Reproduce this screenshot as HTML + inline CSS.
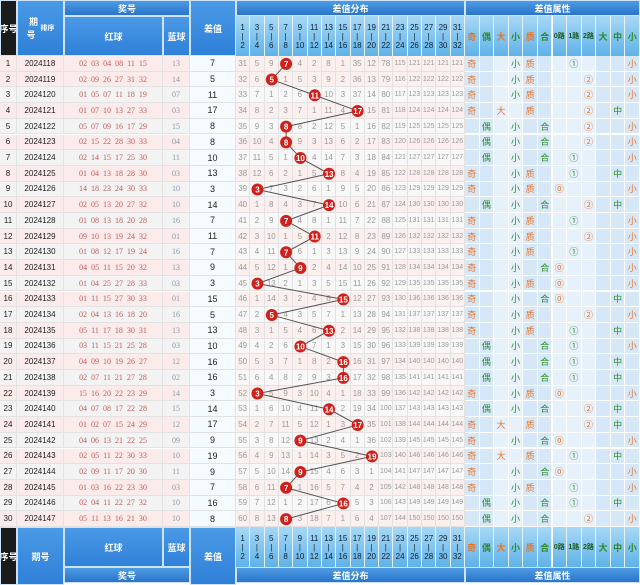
<!DOCTYPE html>
<html><head><meta charset="utf-8">
<style>
body{margin:0;width:640px;height:585px;overflow:hidden;background:#fff;font-family:"Liberation Sans","Noto Sans CJK SC",sans-serif;}
#root{position:relative;width:640px;height:585px;}
.c{position:absolute;box-sizing:border-box;display:flex;align-items:center;justify-content:center;text-align:center;white-space:nowrap;overflow:hidden;}
.hb{background:linear-gradient(#4a9ae6,#2f80d8);color:#fff;font-weight:bold;font-size:9px;border:1px solid #cfe3f6;}
.tb{background:linear-gradient(#4d9be4,#2a74c8);color:#fff;font-weight:bold;font-size:9px;border:1px solid #cfe3f6;}
.dh{background:linear-gradient(#a8d8f5,#5fb2e8);color:#123;font-size:8px;line-height:9px;border-right:1px solid #e4f2fc;flex-direction:column;}
.ah{background:linear-gradient(#a8d8f5,#5fb2e8);font-size:9px;font-weight:bold;border-right:1px solid #e4f2fc;}
.blk{background:#1b1b1b;color:#fff;font-weight:bold;font-size:9px;border:1px solid #cfe3f6;}
.cell{font-size:8px;border-right:1px solid #e2e2e2;border-bottom:1px solid #e2e2e2;}
</style></head><body>
<div id="root">
<svg id="lines" width="640" height="585" style="position:absolute;left:0;top:0;z-index:2;pointer-events:none"></svg>
</div>
<script>
const issues=["2024118","2024119","2024120","2024121","2024122","2024123","2024124","2024125","2024126","2024127","2024128","2024129","2024130","2024131","2024132","2024133","2024134","2024135","2024136","2024137","2024138","2024139","2024140","2024141","2024142","2024143","2024144","2024145","2024146","2024147"];
const reds=["02 03 04 08 11 15","02 09 26 27 31 32","01 05 07 11 18 19","01 07 10 13 27 33","05 07 09 16 17 29","02 15 22 28 30 33","02 14 15 17 25 30","01 04 13 18 28 30","14 18 23 24 30 33","02 05 13 20 27 32","01 08 13 18 20 28","09 10 13 19 24 32","01 08 12 17 19 24","04 05 11 15 20 32","01 04 25 27 28 33","01 11 15 27 30 33","02 04 13 16 18 20","05 11 17 18 30 31","03 11 15 21 25 28","04 09 10 19 26 27","02 07 11 21 27 28","15 16 20 22 23 29","04 07 08 17 22 28","01 02 07 15 24 29","04 06 13 21 22 25","02 05 11 22 30 33","02 09 11 17 20 30","01 03 16 22 23 30","02 04 11 22 27 32","05 11 13 16 21 30"];
const blues=["13","14","07","03","15","04","11","03","10","10","16","01","16","13","03","01","16","13","03","12","02","14","15","12","09","10","11","03","10","10"];
const diffs=[7,5,11,17,8,8,10,13,3,14,7,11,7,9,3,15,5,13,10,16,16,3,14,17,9,19,9,7,16,8];
const startMiss=[30,4,8,0,3,1,7,0,34,11,77,114,120,120,120,120];

const root=document.getElementById('root');
const svg=document.getElementById('lines');
const NS='http://www.w3.org/2000/svg';
const DX=236,DW=(465-236)/16,AX=465,AW=(640-465)/12;
const TOP=56,RH=(527-56)/30;
function box(x,y,w,h,cls,txt,name,style){const d=document.createElement('div');d.className='c '+cls;d.style.left=x+'px';d.style.top=y+'px';d.style.width=w+'px';d.style.height=h+'px';if(style)d.style.cssText+=style;d.innerHTML=txt;


root.appendChild(d);return d;}
const attrLabels=['奇','偶','大','小','质','合','0路','1路','2路','大','中','小'];
const attrColors=['#e8742c','#2e8b2e','#e8742c','#2e8b2e','#e8742c','#2e8b2e','#1d5a1d','#1d5a1d','#1d5a1d','#2e8b2e','#2e8b2e','#2e8b2e'];
function headers(y0,yT,h,footer){
  box(0,y0,17,footer?58:56,'blk','序号','seq-header');
  box(17,y0,47,footer?58:56,'hb',footer?'期号':'期<br>号 &nbsp;<span style="font-size:7px">排序</span>','issue-header');
  box(64,footer?y0:16,99,40,'hb','红球','red-ball-header');
  box(163,footer?y0:16,27,40,'hb','蓝球','blue-ball-header');
  box(64,yT,126,h,'tb','奖号','prize-title');
  box(190,y0,46,footer?58:56,'hb','差值','diff-header');
  box(236,yT,229,h,'tb','差值分布','distribution-title');
  box(465,yT,175,h,'tb','差值属性','attribute-title');
  const dy=footer?y0:16;
  for(let i=0;i<16;i++){box(DX+i*DW,dy,DW,40,'dh',(2*i+1)+'<br>|<br>'+(2*i+2),'dist-col-header');}
  for(let i=0;i<12;i++){box(AX+i*AW,dy,AW,40,'ah',attrLabels[i],'attr-col-header','color:'+attrColors[i]+';font-size:'+(attrLabels[i].length>1?7:9)+'px');}
}
headers(0,0,16,false);
headers(527,567,16,true);

const miss=startMiss.slice();
const pts=[];
const grp=[0,0,1,1,0,0,1,1,1,0,0,0];
for(let r=0;r<30;r++){
  const y=TOP+r*RH;const pink=(r%2==1)||r==0;
  const bg=pink?'#fbeceb':'#f3f3f3';
  box(0,y,17,RH,'cell',String(r+1),'seq-cell','background:'+bg+';color:#222');
  box(17,y,47,RH,'cell',issues[r],'issue-cell','background:'+bg+';color:#222');
  box(64,y,99,RH,'cell',reds[r],'red-balls-cell','background:'+bg+';color:#c65a5a;font-family:"Liberation Serif",serif;word-spacing:2px');
  box(163,y,27,RH,'cell',blues[r],'blue-ball-cell','background:'+bg+';color:#8a9aaa;font-family:"Liberation Serif",serif');
  box(190,y,46,RH,'cell',String(diffs[r]),'diff-value-cell','background:#f6fbff;color:#222;font-size:9px');
  const hit=Math.floor((diffs[r]-1)/2);
  for(let i=0;i<16;i++){
    if(i==hit)miss[i]=0;else miss[i]++;
    box(DX+i*DW,y,DW,RH,'cell',i==hit?'':String(miss[i]),'omission-cell','background:'+(pink?'#fbf0ee':'#f8f8f8')+';color:#9a9a9a;font-size:'+(miss[i]>99?7:8)+'px');
  }
  pts.push([DX+hit*DW+DW/2,y+RH/2,diffs[r]]);
  const v=diffs[r];
  const prime=[2,3,5,7,11,13,17,19,23,29,31].includes(v)||v==1;
  const vals=[v%2?'奇':'',v%2?'':'偶',v>=17?'大':'',v>=17?'':'小',prime?'质':'',prime?'':'合',v%3==0?'⓪':'',v%3==1?'①':'',v%3==2?'②':'',v>=23?'大':'',v>=12&&v<23?'中':'',v<12?'小':''];
  for(let i=0;i<12;i++){
    const col=(i==0||i==2||i==4||i==11||i==6||i==8)?'#e8742c':'#2e8b2e';
    const c=i==7?'#2e8b2e':col;
    box(AX+i*AW,y,AW,RH,'cell',vals[i],'attr-cell','border-color:#fff;background:'+(grp[i]?'#e6f1fb':'#d6e8f8')+';color:'+c+';font-size:9px');
  }
}
for(let r=1;r<pts.length;r++){
  const l=document.createElementNS(NS,'line');
  l.setAttribute('x1',pts[r-1][0]);l.setAttribute('y1',pts[r-1][1]);l.setAttribute('x2',pts[r][0]);l.setAttribute('y2',pts[r][1]);
  l.setAttribute('stroke','#555');l.setAttribute('stroke-width','1');
  
  
  svg.appendChild(l);
}
pts.forEach(p=>{
  const c=document.createElementNS(NS,'circle');
  c.setAttribute('cx',p[0]);c.setAttribute('cy',p[1]);c.setAttribute('r',6);c.setAttribute('fill','#d0201c');
  
  
  svg.appendChild(c);
  const t=document.createElementNS(NS,'text');
  t.setAttribute('x',p[0]);t.setAttribute('y',p[1]+3);t.setAttribute('text-anchor','middle');t.setAttribute('fill','#fff');t.setAttribute('font-size','8');t.setAttribute('font-weight','bold');t.setAttribute('font-family','Liberation Sans, sans-serif');
  t.textContent=p[2];
  
  
  svg.appendChild(t);
});
</script>
</body></html>
